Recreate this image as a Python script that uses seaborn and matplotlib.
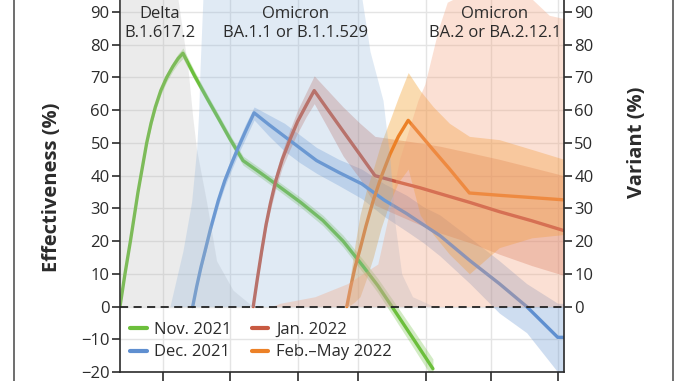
import pandas as pd
import matplotlib.pyplot as plt
import seaborn as sns
from matplotlib.lines import Line2D

# x axis is days since 1 Dec 2021, tick marks sit on the first of each month
month_ticks = [0, 31, 62, 90, 121, 151, 182]
x_range = (-19.8, 184.8)

cohorts = ['Nov. 2021', 'Dec. 2021', 'Jan. 2022', 'Feb.\u2013May 2022']
line_colors = ['#6cbf3c', '#5f8fd0', '#c85a42', '#ec8127']
band_colors = ['#6cbf3c', '#5f8fd0', '#c85a42', '#f39a1e']

# vaccine effectiveness (%) with confidence band, one block per booster cohort
nov_day = [-19.8, -17.5, -15, -11.5, -7.5, -5.5, -3.5, -1, 1.7, 4.5, 7, 9.2, 14.5, 20.7,
           26, 30.9, 36.9, 45, 53.9, 63.5, 73.7, 83, 92, 99, 105.5, 115, 124.4]
nov_ve = [0, 10, 20, 35, 50, 56, 61, 66, 70, 73.3, 75.8, 77.4, 70.6, 63.2,
          57, 51.2, 44.6, 40.8, 36.5, 31.8, 26.3, 20, 12.5, 6.4, 0, -9.5, -19]
nov_lo = [0, 9.5, 19.2, 34, 49, 54.9, 59.8, 64.7, 68.7, 71.9, 74.3, 75.8, 69.2, 61.9,
          55.7, 49.9, 43.2, 39.4, 35.1, 30.3, 24.7, 18.2, 10.5, 4.2, -2.4, -12.2, -22]
nov_hi = [0, 10.5, 20.8, 36, 51, 57.1, 62.2, 67.3, 71.3, 74.7, 77.3, 79, 72, 64.5,
          58.3, 52.5, 46, 42.2, 37.9, 33.3, 27.9, 21.8, 14.5, 8.6, 2.4, -6.8, -16]

dec_day = [13.7, 15.5, 17.5, 19.4, 22, 25.5, 28.5, 31.5, 34.5, 38, 42, 49, 56, 63, 70.8,
           81, 91.6, 102, 112.3, 120, 127.6, 141.5, 155, 167.6, 181.9, 184.8]
dec_ve = [0, 6, 12, 17, 24, 32.4, 38.5, 43.5, 48.3, 53.5, 59.2, 55.5, 52, 48.5, 44.6,
          41, 37.5, 32.5, 28.4, 25, 21.7, 14, 7, 0, -9.4, -9.4]
dec_lo = [0, 5.3, 11, 15.8, 22.6, 30.8, 36.7, 41.6, 46.3, 51.3, 57, 52, 47.5, 44, 40.7,
          37, 33, 27.5, 23, 19.5, 15.5, 7, -2, -8, -20, -22]
dec_hi = [0, 6.7, 13, 18.2, 25.4, 34, 40.3, 45.4, 50.3, 55.7, 61, 58.5, 56, 52.5, 48.6,
          45, 42, 37.5, 34, 30.5, 28, 21, 14, 7, 1, 1]

jan_day = [41.6, 43.5, 45.5, 47.5, 49.5, 52, 55, 58.5, 62, 66, 69.7, 76, 83, 90.8, 97.7,
           108, 118.4, 127.6, 141.5, 155, 170, 184.8]
jan_ve = [0, 8.5, 17, 25, 31.5, 38.5, 45, 51, 56.5, 61.5, 66, 60.1, 53.6, 46.4, 40,
          38.1, 36.3, 34.5, 31.8, 29, 26.2, 23.2]
jan_lo = [0, 7.5, 15.5, 23.5, 29.5, 36, 42.5, 48, 53, 58, 62, 54.5, 46, 39, 31,
          28, 25, 22.5, 19.5, 16, 12.5, 9.5]
jan_hi = [0, 9.5, 18.5, 26.5, 33.5, 41, 47.5, 54, 60, 65.5, 70.5, 66, 61, 56, 52,
          51, 50, 49, 47, 45, 42.5, 40]

feb_day = [84.7, 86.5, 88.5, 90.8, 93.5, 96.9, 100.5, 104.6, 108.5, 113, 118.5, 124.6,
           132, 141.2, 155, 170, 184.8]
feb_ve = [0, 6, 12, 17.5, 24.5, 32.4, 39.5, 46.5, 52, 56.9, 52.6, 47.8,
          42.1, 34.7, 34, 33.3, 32.6]
feb_lo = [0, 0.5, 1.5, 3, 8, 15, 24, 32, 38, 42, 28, 22,
          16, 10, 18, 21, 22]
feb_hi = [0, 10, 19, 28, 35, 42, 50, 57, 64, 71.5, 66, 61,
          56, 52, 51, 48, 45]

# share of sequenced cases by variant (%), right axis
delta_day = [-19.8, -5, 3, 6.9, 11.5, 13.7, 15.5, 20.1, 24.7, 32.3, 41.5, 184.8]
delta_pct = [99, 99, 98, 94, 73, 58, 48, 32, 14, 5, 0, 0]
ba1_day = [-19.8, 3.2, 9.2, 13.2, 15.5, 16.5, 17.1, 18.4, 22, 60, 90, 91.7, 95.4,
           101.4, 104.6, 107, 110, 115, 125, 184.8]
ba1_pct = [0, 0, 17, 32, 48, 60, 73, 94, 99, 99, 99, 94, 78,
           63, 45, 25, 10, 3, 0, 0]
ba2_day = [-19.8, 50, 54, 70, 85, 99, 104, 109, 117.5, 120.7, 127, 131, 140, 170, 178, 184.8]
ba2_pct = [0, 0, 1, 3, 7, 13, 28, 45, 63, 68, 85, 93, 96, 94, 89, 88]

variant_labels = ['Delta\nB.1.617.2', 'Omicron\nBA.1.1 or B.1.1.529', 'Omicron\nBA.2 or BA.2.12.1']
variant_label_day = [-1.4, 61.3, 153]

days = [nov_day, dec_day, jan_day, feb_day]
ves = [nov_ve, dec_ve, jan_ve, feb_ve]
los = [nov_lo, dec_lo, jan_lo, feb_lo]
his = [nov_hi, dec_hi, jan_hi, feb_hi]

df = pd.concat([pd.DataFrame({'day': d, 've': v, 'cohort': c})
                for c, d, v in zip(cohorts, days, ves)], ignore_index=True)

sns.set_theme(style='white')
plt.rcParams['font.family'] = ['Open Sans', 'DejaVu Sans']
ink = '#2b2b2b'

fig = plt.figure(figsize=(6.78, 3.81), dpi=100)
ax = fig.add_axes([120 / 678, 9 / 381, 444 / 678, 392.7 / 381])

ax.set_xlim(*x_range)
ax.set_ylim(-20, 100)
ax.set_xticks(month_ticks)
ax.set_yticks(range(-20, 91, 10))
ax.grid(True, color='#e4e4e4', lw=1.0)
ax.set_axisbelow(True)

for d, lo, hi, c, a in zip(days, los, his, band_colors, [0.3, 0.3, 0.3, 0.35]):
    ax.fill_between(d, lo, hi, color=c, alpha=a, lw=0, zorder=1)

sns.lineplot(data=df, x='day', y='ve', hue='cohort', hue_order=cohorts,
             palette=dict(zip(cohorts, line_colors)), errorbar=None, sort=False,
             lw=2.4, ax=ax, zorder=2)

ax.fill_between(delta_day, 0, delta_pct, color='#b3b3b3', alpha=0.25, lw=0, zorder=3)
ax.fill_between(ba1_day, 0, ba1_pct, color='#8db3da', alpha=0.27, lw=0, zorder=3)
ax.fill_between(ba2_day, 0, ba2_pct, color='#f4a07a', alpha=0.32, lw=0, zorder=3)

ax.axhline(0, color='#222222', lw=1.3, ls=(0, (4.5, 3)), zorder=5)

for lab, d in zip(variant_labels, variant_label_day):
    ax.text(d, 86.5, lab, ha='center', va='center', fontsize=12, color=ink,
            linespacing=1.2, zorder=6)

ax.set_xlabel('')
ax.set_ylabel('Effectiveness (%)', fontsize=14.5, fontweight='bold', color=ink)
ax.yaxis.set_label_coords(-0.131, 0.47)
ax.tick_params(axis='y', left=True, direction='out', length=6, width=1.2, pad=1.5,
               labelsize=12, colors=ink)
ax.tick_params(axis='x', bottom=True, direction='out', length=7, width=1.2,
               labelbottom=False, colors=ink)
for side in ['left', 'bottom']:
    ax.spines[side].set_color(ink)
    ax.spines[side].set_linewidth(1.2)
ax.spines['top'].set_visible(False)
ax.spines['right'].set_visible(False)

ax2 = ax.twinx()
ax2.set_ylim(-20, 100)
ax2.set_yticks(range(0, 91, 10))
ax2.tick_params(axis='y', right=True, direction='out', length=6, width=1.2, pad=1.5,
                labelsize=12, colors=ink)
for side in ['left', 'bottom', 'top']:
    ax2.spines[side].set_visible(False)
ax2.spines['right'].set_color(ink)
ax2.spines['right'].set_linewidth(1.2)
ax2.set_ylabel('Variant (%)', fontsize=14.5, fontweight='bold', color=ink)
ax2.yaxis.set_label_coords(1.142, 0.586)
ax2.grid(False)

sns.move_legend(ax, 'upper left', bbox_to_anchor=(0.023, 0.127), ncol=2, frameon=False,
                title=None, fontsize=12, handlelength=1.0, handletextpad=0.45,
                columnspacing=1.2, labelspacing=0.38, borderpad=0, borderaxespad=0)
for h in ax.get_legend().get_lines():
    h.set_linewidth(3)
for t in ax.get_legend().get_texts():
    t.set_color(ink)

# panel frame edges at both sides of the crop
for fx in [13.5 / 678, 673 / 678]:
    fig.add_artist(Line2D([fx, fx], [0, 1], transform=fig.transFigure, color='#555555', lw=1.2))

plt.savefig('out.png', dpi=100)
